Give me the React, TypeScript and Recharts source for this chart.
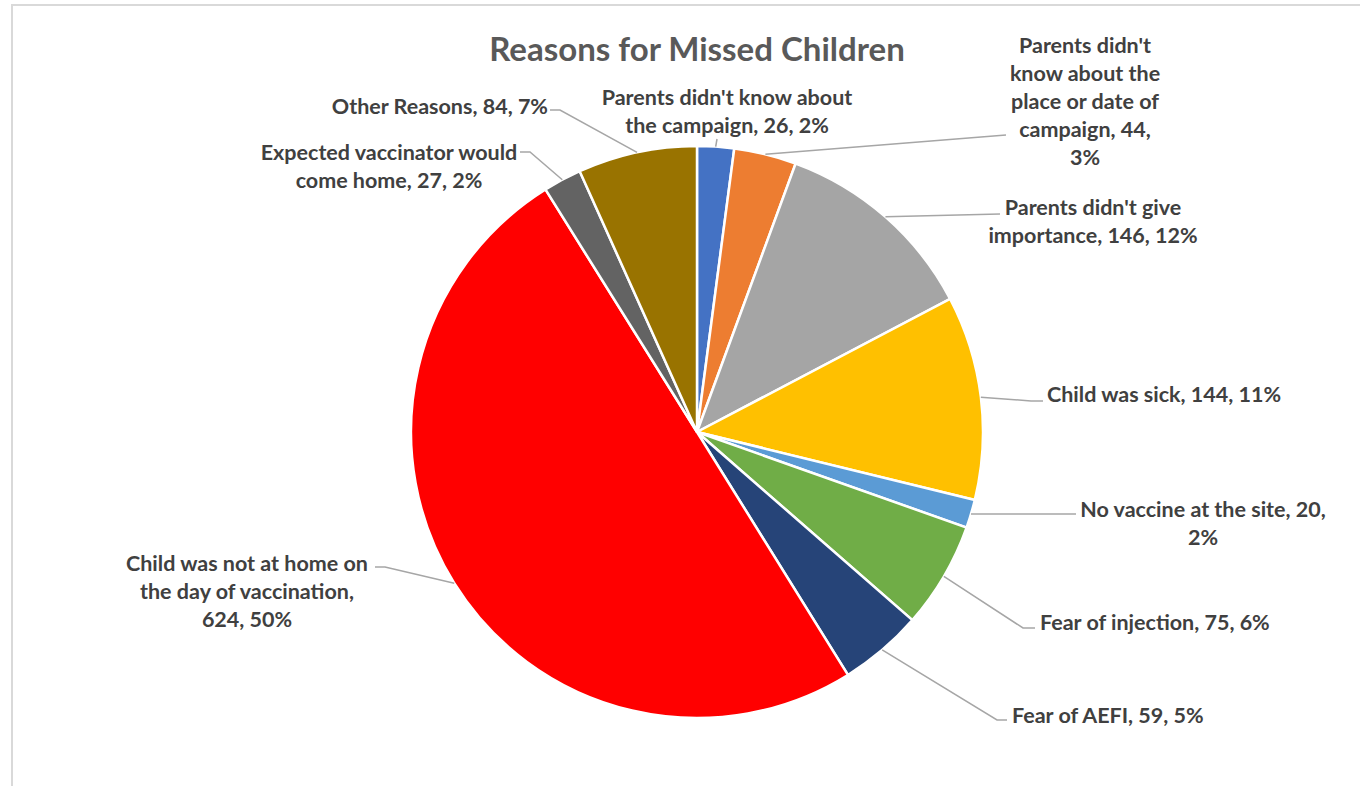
import { Cell, Pie, PieChart } from "recharts"

const categories = [
  "Parents didn't know about the campaign",
  "Parents didn't know about the place or date of campaign",
  "Parents didn't give importance",
  "Child was sick",
  "No vaccine at the site",
  "Fear of injection",
  "Fear of AEFI",
  "Child was not at home on the day of vaccination",
  "Expected vaccinator would come home",
  "Other Reasons",
]
const counts = [26, 44, 146, 144, 20, 75, 59, 624, 27, 84]
const percentLabels = ["2%", "3%", "12%", "11%", "2%", "6%", "5%", "50%", "2%", "7%"]

const sliceColors = [
  "#4472C4",
  "#ED7D31",
  "#A5A5A5",
  "#FFC000",
  "#5B9BD5",
  "#70AD47",
  "#264478",
  "#FF0000",
  "#636363",
  "#997300",
]

// how many words of each label go on each line
const wordsPerLine = [[4, 4], [2, 3, 4, 2, 1], [3, 3], [5], [6, 1], [5], [5], [6, 4, 2], [3, 4], [4]]

// label placement, offsets from the pie centre
// tx/ty: text position (first line), ex/ey: leader elbow, lx: leader end x
const labelPlacement = [
  { tx: 30, ty: -335, anchor: "middle", ex: 20, ey: -293, lx: 20 },
  { tx: 388, ty: -387, anchor: "middle", ex: 309, ey: -297, lx: 309 },
  { tx: 396, ty: -225, anchor: "middle", ex: 303, ey: -218, lx: 303 },
  { tx: 350, ty: -38, anchor: "start", ex: 334, ey: -31, lx: 346 },
  { tx: 506, ty: 77, anchor: "middle", ex: 379, ey: 82, lx: 379 },
  { tx: 343, ty: 190, anchor: "start", ex: 326, ey: 196, lx: 338 },
  { tx: 315, ty: 283, anchor: "start", ex: 300, ey: 288, lx: 310 },
  { tx: -450, ty: 131, anchor: "middle", ex: -312, ey: 135, lx: -322 },
  { tx: -308, ty: -280, anchor: "middle", ex: -167, ey: -280, lx: -177 },
  { tx: -149, ty: -326, anchor: "end", ex: -137, ey: -322, lx: -147 },
]

const data = categories.map((name, i) => ({ name, value: counts[i] }))

const FONT = "Lato, 'Open Sans', sans-serif"
const RADIAN = Math.PI / 180
const LINE_HEIGHT = 28

function wrapLabel(text: string, counts: number[]) {
  const words = text.split(" ")
  const lines: string[] = []
  let k = 0
  for (const n of counts) {
    lines.push(words.slice(k, k + n).join(" "))
    k += n
  }
  return lines
}

function renderLabel(props: any) {
  const { cx, cy, midAngle, outerRadius, index } = props
  const p = labelPlacement[index]
  const sx = cx + outerRadius * Math.cos(-midAngle * RADIAN)
  const sy = cy + outerRadius * Math.sin(-midAngle * RADIAN)
  const text = `${categories[index]}, ${counts[index]}, ${percentLabels[index]}`
  const lines = wrapLabel(text, wordsPerLine[index])
  return (
    <g key={`lbl-${index}`}>
      <polyline
        points={`${sx},${sy} ${cx + p.ex},${cy + p.ey} ${cx + p.lx},${cy + p.ey}`}
        fill="none"
        stroke="#A6A6A6"
        strokeWidth={1.5}
      />
      <text
        x={cx + p.tx}
        y={cy + p.ty}
        textAnchor={p.anchor}
        fill="#404040"
        fontFamily={FONT}
        fontWeight={700}
        fontSize={21.5}
      >
        {lines.map((line, j) => (
          <tspan key={j} x={cx + p.tx} y={cy + p.ty + j * LINE_HEIGHT} dominantBaseline="central">
            {line}
          </tspan>
        ))}
      </text>
    </g>
  )
}

export default function App() {
  return (
    <div
      style={{
        position: "absolute",
        left: 0,
        top: 0,
        width: 1360,
        height: 786,
        background: "#fff",
        overflow: "hidden",
      }}
    >
      <div
        style={{
          position: "absolute",
          left: 11,
          top: 4,
          width: 1360,
          height: 800,
          borderTop: "2px solid #D9D9D9",
          borderLeft: "2px solid #D9D9D9",
        }}
      />
      <PieChart
        width={1360}
        height={786}
        margin={{ top: 0, right: 0, bottom: 0, left: 0 }}
        style={{ position: "absolute", left: 0, top: 0 }}
      >
        <text
          x={697}
          y={48}
          textAnchor="middle"
          dominantBaseline="central"
          fill="#595959"
          fontFamily={FONT}
          fontWeight={700}
          fontSize={33}
        >
          Reasons for Missed Children
        </text>
        <Pie
          data={data}
          dataKey="value"
          nameKey="name"
          cx={697}
          cy={432}
          outerRadius={286}
          startAngle={90}
          endAngle={-270}
          stroke="#FFFFFF"
          strokeWidth={2.5}
          label={renderLabel}
          labelLine={false}
          isAnimationActive={false}
        >
          {data.map((d, i) => (
            <Cell key={d.name} fill={sliceColors[i]} />
          ))}
        </Pie>
      </PieChart>
    </div>
  )
}
